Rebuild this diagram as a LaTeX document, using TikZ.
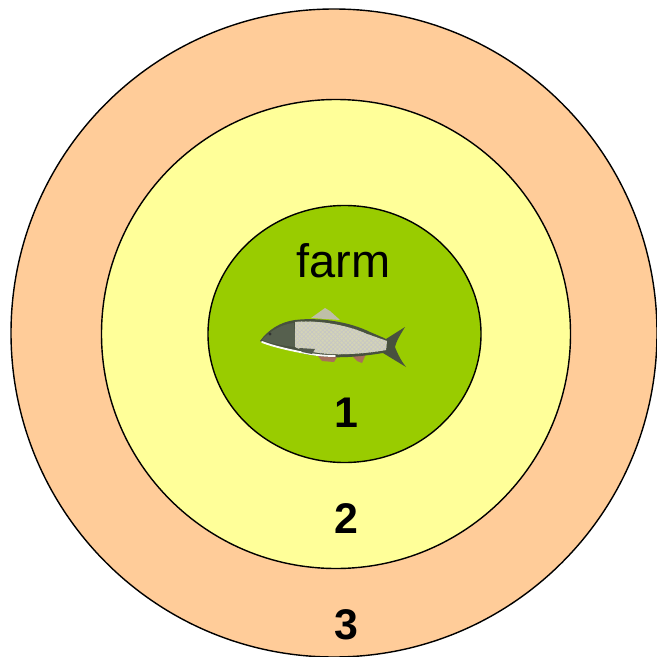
\documentclass[tikz,border=0pt]{standalone}
\usepackage{fontspec}
\setmainfont{Liberation Sans}
\usetikzlibrary{patterns}

% 三个环的颜色
\definecolor{ringthree}{HTML}{FFCC99}
\definecolor{ringtwo}{HTML}{FFFF99}
\definecolor{ringone}{HTML}{99CC00}
% 鱼的颜色
\definecolor{fishdark}{HTML}{48513F}
\definecolor{fishhead}{HTML}{56604E}
\definecolor{fishscale}{HTML}{D4D4B6}
\definecolor{fishfin}{HTML}{A8705A}

\begin{document}
\begin{tikzpicture}[x=0.025cm,y=-0.025cm]
	
	% 定义环的样式
	\tikzset{ring/.style={draw=black, line width=1pt}}
	\tikzset{zone/.style={font=\bfseries\fontsize{30.5}{30.5}\selectfont, anchor=base}}
	
	\useasboundingbox (0,0) rectangle (657,657); % 画布大小
	
	% 绘制三个同心区域
	\filldraw[ring, fill=ringthree] (334,333) ellipse (323 and 324); % 外环 3
	\filldraw[ring, fill=ringtwo] (336,334) ellipse (234.5 and 234.5); % 中环 2
	\filldraw[ring, fill=ringone] (344.5,334) ellipse (136.5 and 128.5); % 内圈 1
	
	% 标注
	\node[font=\fontsize{33.4}{33.4}\selectfont, anchor=base] (farm) at (343.5,277) {farm}; % 养殖场
	\node[zone] (one) at (346,427) {1}; % 区域 1
	\node[zone] (two) at (346,533) {2}; % 区域 2
	\node[zone] (three) at (346,639) {3}; % 区域 3
	
	% 鳍 (先画, 压在鱼身下面)
	\fill[fishscale!75!gray] (311,318) -- (325,308) -- (330,311) -- (340,320) -- cycle; % 背鳍
	\fill[fishfin] (317,355) -- (337,357) -- (334,362) -- (322,361) -- cycle; % 腹鳍
	\fill[fishfin] (351,355) -- (366,354) -- (362,363) -- (357,361) -- cycle; % 臀鳍
	
	% 绘制鱼的轮廓
	\fill[fishdark] (260,341) .. controls (268,330) and (280,322) .. (295,320)
		.. controls (320,317) and (350,322) .. (370,332)
		.. controls (377,335) and (382,337) .. (386,339)
		-- (405,327) .. controls (400,335) and (396,342) .. (395,347)
		.. controls (398,355) and (402,362) .. (406,367)
		-- (383,353) .. controls (365,356) and (345,358) .. (330,357)
		.. controls (310,356) and (295,352) .. (285,348)
		.. controls (275,346) and (265,344) .. (260,341) -- cycle; % 鱼身
	
	% 头部
	\fill[fishhead] (262,340) .. controls (270,331) and (282,324) .. (294,323)
		-- (296,347) .. controls (285,346) and (272,344) .. (262,340) -- cycle;
	
	% 鳞片
	\fill[fishscale] (295,322) .. controls (315,320) and (345,324) .. (367,334)
		-- (387,341) -- (386,350) .. controls (370,353) and (345,355) .. (330,354)
		.. controls (315,353) and (300,350) .. (295,347) -- cycle;
	\fill[pattern=north east lines, pattern color=gray!45] (295,322) .. controls (315,320) and (345,324) .. (367,334)
		-- (387,341) -- (386,350) .. controls (370,353) and (345,355) .. (330,354)
		.. controls (315,353) and (300,350) .. (295,347) -- cycle;
	\fill[pattern=north west lines, pattern color=gray!45] (295,322) .. controls (315,320) and (345,324) .. (367,334)
		-- (387,341) -- (386,350) .. controls (370,353) and (345,355) .. (330,354)
		.. controls (315,353) and (300,350) .. (295,347) -- cycle;
	
	% 腹部的白线
	\draw[white!90!fishscale, line width=1.3pt, line cap=round] (262,342) .. controls (275,347) and (290,350) .. (305,353)
		.. controls (315,355) and (325,356) .. (335,356);
	
	% 胸鳍
	\fill[fishdark!80!gray] (299,348) -- (315,349) -- (312,354) -- (302,352) -- cycle;
	
	% 眼睛
	\fill[black!80] (270,334) circle (1.6);
	
\end{tikzpicture}
\end{document}
